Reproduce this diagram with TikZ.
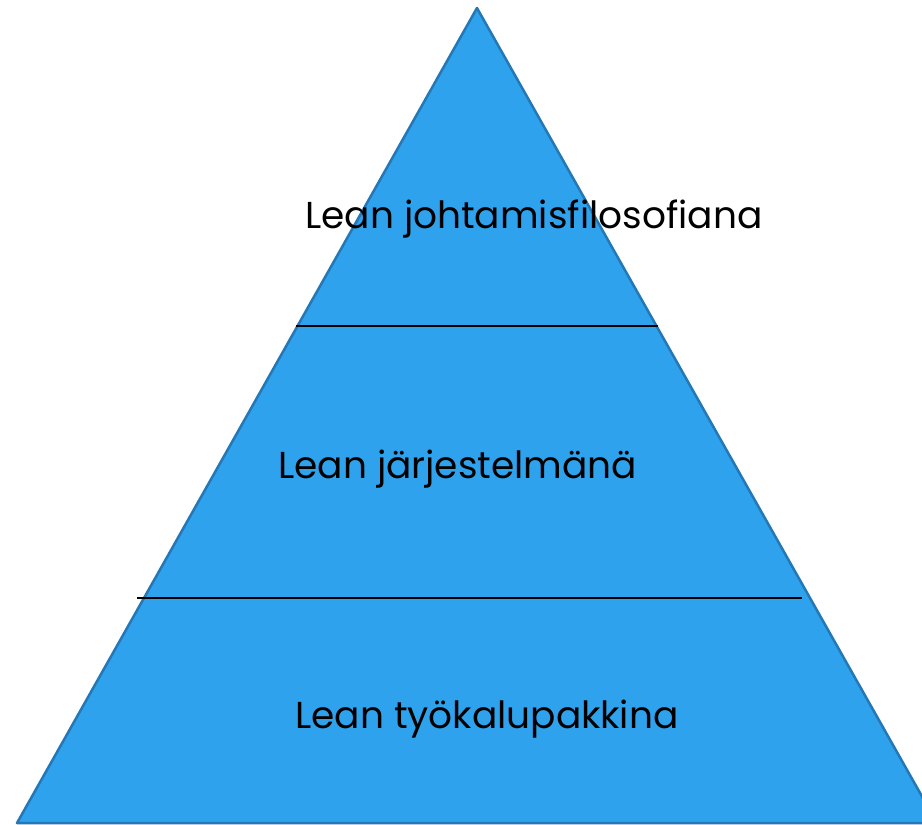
\documentclass[tikz,border=0pt]{standalone}
\usepackage{fontspec}
\setmainfont{Poppins}
\definecolor{pfill}{RGB}{46,162,236}
\definecolor{pedge}{RGB}{36,120,182}
\tikzset{
  lvl/.style={anchor=base west, inner sep=0pt, font=\fontsize{37.5}{44}\selectfont, text=black},
  sep/.style={draw=black, line width=1.8pt}
}
\begin{document}
\begin{tikzpicture}[x=1pt,y=-1pt]
\useasboundingbox (0,0) rectangle (922,825);
\clip (0,0) rectangle (922,825);
\coordinate (apex) at (477,8);
\coordinate (bl) at (17,823);
\coordinate (br) at (937,823);
\draw[fill=pfill, draw=pedge, line width=2.5pt, line join=round] (apex) -- (br) -- (bl) -- cycle;
\coordinate (s1a) at (296,326);
\coordinate (s1b) at (658,326);
\coordinate (s2a) at (137,598);
\coordinate (s2b) at (802,598);
\draw[sep] (s1a) -- (s1b);
\draw[sep] (s2a) -- (s2b);
\node[lvl] (t1) at (305,228) {Lean johtamisfilosofiana};
\node[lvl] (t2) at (278,478) {Lean järjestelmänä};
\node[lvl] (t3) at (295,728) {Lean työkalupakkina};
\end{tikzpicture}
\end{document}
